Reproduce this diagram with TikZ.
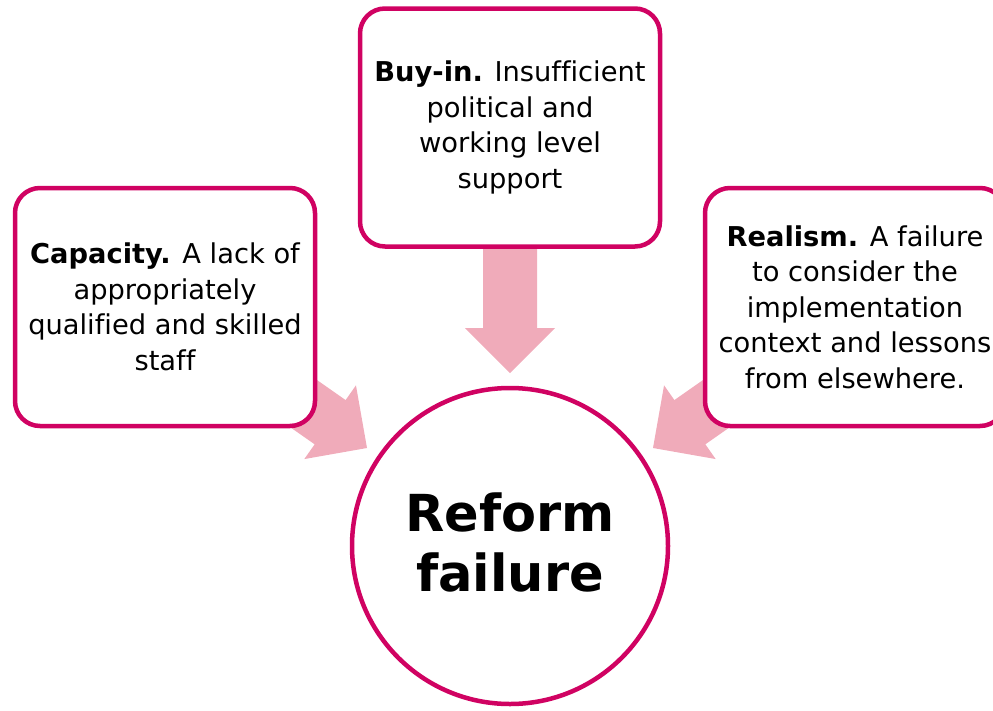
\documentclass[tikz,border=0pt]{standalone}
\usepackage{fontspec}
\setmainfont{DejaVu Sans}[Ligatures=NoCommon]
\definecolor{rim}{RGB}{208,2,98}
\definecolor{pinkfill}{RGB}{240,171,186}
\begin{document}
\begin{tikzpicture}[x=1pt,y=-1pt,
  box/.style={draw=rim, line width=4.5pt, rounded corners=25pt, fill=white,
    minimum width=300pt, minimum height=238pt, align=center, inner sep=0pt,
    font=\fontsize{27.3}{35.5}\selectfont},
  hub/.style={circle, draw=rim, line width=4.5pt, fill=white, minimum size=316pt,
    align=center, inner sep=0pt, font=\fontsize{51}{60}\selectfont\bfseries},
  blockarrow/.style={fill=pinkfill}]
\useasboundingbox (0,0) rectangle (993,710);
\clip (0,0) rectangle (993,710);
% block arrows (drawn first, boxes cover their tails)
\coordinate (tipM) at (510,373);
\coordinate (tipL) at (367,448);
\coordinate (tipR) at (653,448);
\foreach \t/\r in {tipM/0, tipL/55, tipR/-55}{
  \begin{scope}[shift={(\t)}, rotate=\r]
    \fill[blockarrow] (-27,-133) -- (27,-133) -- (27,-45) -- (45,-45) -- (0,0)
      -- (-45,-45) -- (-27,-45) -- cycle;
  \end{scope}
}
% boxes
\node[box] (buyin) at (510,127.5)
  {\textbf{Buy-in.} Insufficient\\political and\\working level\\support};
\node[box] (capacity) at (165,307)
  {\textbf{Capacity.} A lack of\\appropriately\\qualified and skilled\\staff};
\node[box] (realism) at (855,307)
  {\textbf{Realism.} A failure\\to consider the\\implementation\\context and lessons\\from elsewhere.};
% centre circle
\node[hub] (reform) at (510,546) {};
\node[font=\fontsize{51}{60}\selectfont\bfseries, align=center, inner sep=0pt]
  at (510,542) {Reform\\failure};
\end{tikzpicture}
\end{document}
